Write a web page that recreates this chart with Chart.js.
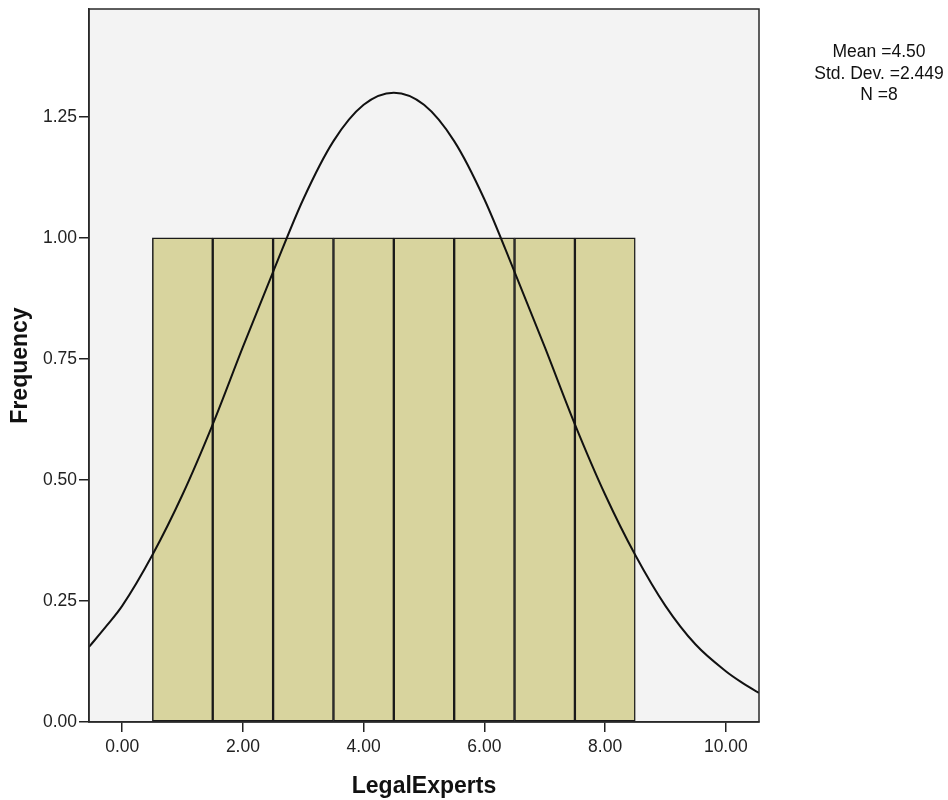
<!DOCTYPE html>
<html>
<head>
<meta charset="utf-8">
<script src="https://cdn.jsdelivr.net/npm/chart.js@4"></script>
<style>
  html, body { margin: 0; padding: 0; background: #ffffff; }
  #wrap { width: 948px; height: 800px; position: relative; }
</style>
</head>
<body>
<div id="wrap"><canvas id="c"></canvas></div>
<script>
// Histogram bins (bin centers) and frequencies
const binCenters = [1, 2, 3, 4, 5, 6, 7, 8];
const frequencies = [1, 1, 1, 1, 1, 1, 1, 1];

// Normal curve points
const curveX = [-0.55, -0.25, 0, 0.5, 1, 1.5, 2, 2.5, 3, 3.5, 4, 4.5, 5, 5.5, 6, 6.5, 7, 7.5, 8, 8.5, 9, 9.5, 10, 10.25, 10.55];
const curveY = [0.155, 0.20, 0.24, 0.345, 0.47, 0.615, 0.775, 0.93, 1.08, 1.20, 1.275, 1.30, 1.275, 1.20, 1.08, 0.93, 0.775, 0.615, 0.47, 0.345, 0.24, 0.16, 0.105, 0.083, 0.06];

// Axis ranges / ticks
const xMin = -0.55, xMax = 10.55, xStep = 2;
const yMin = 0, yMax = 1.473, yStep = 0.25;

// Statistics box
const statsLines = ['Mean =4.50', 'Std. Dev. =2.449', 'N =8'];

const FONT = '"Liberation Sans", Arial, sans-serif';

const bgPlugin = {
  id: 'plotBg',
  beforeDraw(chart) {
    const {ctx, chartArea: a} = chart;
    ctx.save();
    ctx.fillStyle = '#f3f3f3';
    ctx.fillRect(a.left, a.top, a.right - a.left, a.bottom - a.top);
    ctx.restore();
  },
  afterDraw(chart) {
    const {ctx, chartArea: a} = chart;
    ctx.save();
    ctx.strokeStyle = '#2a2a2a';
    ctx.lineWidth = 1.5;
    ctx.strokeRect(a.left, a.top, a.right - a.left, a.bottom - a.top);
    ctx.fillStyle = '#111';
    ctx.font = '17.5px ' + FONT;
    ctx.textAlign = 'center';
    ctx.textBaseline = 'middle';
    const ys = [52.5, 74, 95.5];
    statsLines.forEach((t, i) => ctx.fillText(t, 879, ys[i]));
    ctx.restore();
  }
};

new Chart(document.getElementById('c'), {
  type: 'bar',
  data: {
    datasets: [
      {
        type: 'line',
        data: curveX.map((x, i) => ({x, y: curveY[i]})),
        borderColor: '#111111',
        borderWidth: 2,
        pointRadius: 0,
        fill: false,
        cubicInterpolationMode: 'monotone',
        order: 0
      },
      {
        type: 'bar',
        data: binCenters.map((x, i) => ({x, y: frequencies[i]})),
        backgroundColor: '#d8d49e',
        borderColor: '#1a1a1a',
        borderWidth: 1.5,
        borderSkipped: false,
        barPercentage: 1,
        categoryPercentage: 1,
        grouped: false,
        order: 1
      }
    ]
  },
  options: {
    responsive: true,
    maintainAspectRatio: false,
    animation: false,
    layout: { padding: { top: 9, right: 189, left: 0, bottom: 0 } },
    plugins: { legend: { display: false }, tooltip: { enabled: false } },
    scales: {
      x: {
        type: 'linear',
        offset: false,
        min: xMin, max: xMax,
        afterFit(s) { s.height = 78; },
        ticks: {
          stepSize: xStep,
          includeBounds: false,
          padding: 5,
          color: '#222',
          font: { family: FONT, size: 17.5 },
          maxRotation: 0,
          callback: v => Number(v).toFixed(2)
        },
        grid: { offset: false, drawOnChartArea: false, tickLength: 10, color: '#222', lineWidth: 1.5 },
        border: { display: true, color: '#2a2a2a', width: 1.5 },
        title: {
          display: true, text: 'LegalExperts', color: '#111',
          font: { family: FONT, size: 23, weight: 'bold', lineHeight: 1 },
          padding: { top: 0, bottom: 1.5 }
        }
      },
      y: {
        type: 'linear',
        min: yMin, max: yMax,
        afterFit(s) { s.width = 89; s.paddingTop = 0; s.paddingBottom = 0; },
        ticks: {
          stepSize: yStep,
          includeBounds: false,
          padding: 2,
          color: '#222',
          font: { family: FONT, size: 17.5 },
          callback: v => Number(v).toFixed(2)
        },
        grid: { drawOnChartArea: false, tickLength: 10, color: '#222', lineWidth: 1.5 },
        border: { display: true, color: '#2a2a2a', width: 1.5 },
        title: {
          display: true, text: 'Frequency', color: '#111',
          font: { family: FONT, size: 23, weight: 'bold', lineHeight: 1 },
          padding: { top: 9, bottom: 0 }
        }
      }
    }
  },
  plugins: [bgPlugin]
});
</script>
</body>
</html>
